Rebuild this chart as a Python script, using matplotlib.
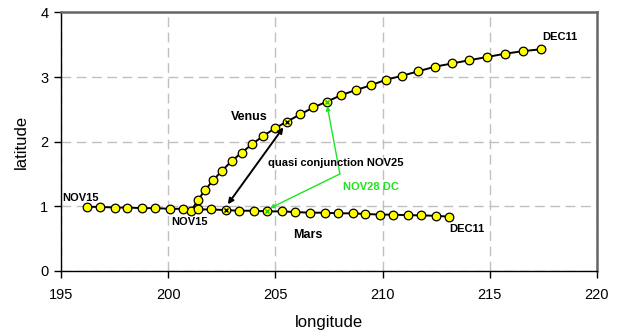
import matplotlib
matplotlib.use("Agg")
import matplotlib.pyplot as plt

plt.rcParams["font.family"] = ["Liberation Sans", "DejaVu Sans"]

# daily positions NOV15 .. DEC11
venus_lon = [201.05, 201.38, 201.72, 202.09, 202.51, 202.96, 203.43, 203.91, 204.44,
             205.00, 205.54, 206.15, 206.77, 207.41, 208.07, 208.76, 209.44, 210.17,
             210.92, 211.67, 212.44, 213.24, 214.04, 214.87, 215.69, 216.53, 217.39]
venus_lat = [0.92, 1.09, 1.25, 1.40, 1.55, 1.70, 1.83, 1.96, 2.09,
             2.21, 2.31, 2.42, 2.53, 2.62, 2.72, 2.80, 2.87, 2.96,
             3.02, 3.09, 3.16, 3.21, 3.26, 3.31, 3.36, 3.40, 3.43]
mars_lon = [196.2, 196.8, 197.5, 198.1, 198.8, 199.4, 200.1, 200.7, 201.4,
            202.0, 202.7, 203.3, 204.0, 204.6, 205.3, 205.9, 206.6, 207.3,
            207.9, 208.6, 209.2, 209.9, 210.5, 211.2, 211.8, 212.5, 213.1]
mars_lat = [0.99, 0.99, 0.98, 0.98, 0.97, 0.97, 0.96, 0.96, 0.95,
            0.95, 0.94, 0.93, 0.93, 0.92, 0.92, 0.91, 0.90, 0.90,
            0.89, 0.89, 0.88, 0.87, 0.87, 0.86, 0.86, 0.85, 0.84]

i_conj = 10   # NOV25
i_dc = 13     # NOV28

fig = plt.figure(figsize=(6.18, 3.36), dpi=100)
ax = fig.add_axes([0.0987, 0.194, 0.8673, 0.769])

for lon, lat in ((venus_lon, venus_lat), (mars_lon, mars_lat)):
    ax.plot(lon, lat, "-", color="black", lw=1.4, zorder=3)
    ax.plot(lon, lat, "o", ms=6.2, mfc="#ffff00", mec="black", mew=0.9, zorder=4)
    ax.plot(lon[i_conj], lat[i_conj], "x", ms=3.5, color="black", mew=1.0, zorder=5)
    ax.plot(lon[i_dc], lat[i_dc], "x", ms=3.5, color="#22cc22", mew=1.0, zorder=5)

green = "#1ee61e"
ax.annotate("", xy=(205.37, 2.22), xytext=(202.78, 1.03),
            arrowprops=dict(arrowstyle="<|-|>", color="black", lw=1.4,
                            mutation_scale=8, shrinkA=0, shrinkB=0), zorder=6)
ax.annotate("", xy=(204.75, 0.97), xytext=(208.01, 1.50),
            arrowprops=dict(arrowstyle="-|>", color=green, lw=1.0,
                            mutation_scale=6, shrinkA=0, shrinkB=0), zorder=6)
ax.annotate("", xy=(207.42, 2.55), xytext=(208.01, 1.50),
            arrowprops=dict(arrowstyle="-|>", color=green, lw=1.0,
                            mutation_scale=6, shrinkA=0, shrinkB=0), zorder=6)

bold = dict(fontweight="bold", zorder=7)
ax.text(203.8, 2.38, "Venus", fontsize=9, ha="center", va="center", **bold)
ax.text(206.5, 0.56, "Mars", fontsize=9, ha="center", va="center", **bold)
ax.text(195.08, 1.12, "NOV15", fontsize=8, ha="left", va="center", **bold)
ax.text(200.13, 0.75, "NOV15", fontsize=8, ha="left", va="center", **bold)
ax.text(217.45, 3.62, "DEC11", fontsize=8, ha="left", va="center", **bold)
ax.text(213.1, 0.65, "DEC11", fontsize=8, ha="left", va="center", **bold)
ax.text(204.67, 1.67, "quasi conjunction NOV25", fontsize=8, ha="left", va="center", **bold)
ax.text(208.17, 1.30, "NOV28 DC", fontsize=8, ha="left", va="center", color=green,
        fontweight="bold", zorder=7)

ax.set_xlim(195, 220)
ax.set_ylim(0, 4)
ax.set_xticks(range(195, 221, 5))
ax.set_yticks(range(0, 5))
ax.grid(True, color="#c0c0c0", ls=(0, (7, 4)), lw=1.0, zorder=0)
ax.tick_params(direction="out", length=5, width=1, labelsize=10.5)
ax.tick_params(axis="x", pad=7.5)
ax.tick_params(axis="y", pad=4)
ax.set_xlabel("longitude", fontsize=12, labelpad=9)
ax.set_ylabel("latitude", fontsize=12, labelpad=8)

for side in ("top", "right"):
    ax.spines[side].set_color("#666666")
    ax.spines[side].set_linewidth(1.8)
for side in ("left", "bottom"):
    ax.spines[side].set_color("black")
    ax.spines[side].set_linewidth(1.0)

fig.savefig("out.png", dpi=100)
